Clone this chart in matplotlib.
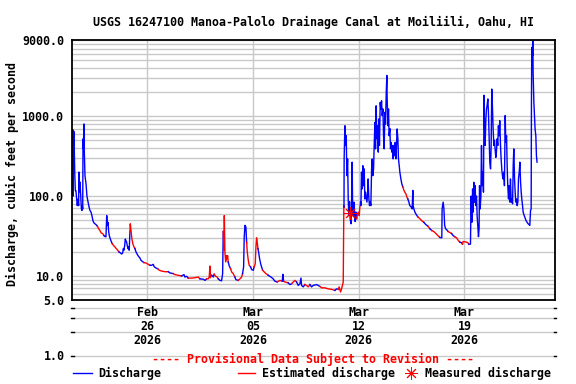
import numpy as np
import pandas as pd
import matplotlib
matplotlib.use("Agg")
from matplotlib import pyplot as plt
import matplotlib.dates as mdates
from matplotlib.lines import Line2D
from matplotlib.ticker import FixedLocator, LogLocator, NullFormatter, FuncFormatter

# discharge readings, days after 2026-02-21 00:00 and cubic feet per second
days = [0.02, 0.05, 0.07, 0.09, 0.11, 0.13, 0.18, 0.22, 0.26, 0.31,
        0.35, 0.40, 0.44, 0.46, 0.51, 0.53, 0.58, 0.62, 0.66, 0.68,
        0.71, 0.73, 0.75, 0.77, 0.79, 0.81, 0.86, 0.93, 0.99, 1.06,
        1.13, 1.19, 1.26, 1.32, 1.39, 1.46, 1.52, 1.59, 1.68, 1.77,
        1.85, 1.94, 2.03, 2.12, 2.20, 2.25, 2.30, 2.34, 2.38, 2.43,
        2.47, 2.54, 2.60, 2.67, 2.76, 2.85, 2.93, 3.03, 3.11, 3.20,
        3.29, 3.36, 3.40, 3.44, 3.49, 3.53, 3.58, 3.62, 3.66, 3.71,
        3.75, 3.79, 3.84, 3.86, 3.91, 3.97, 4.04, 4.11, 4.17, 4.24,
        4.30, 4.37, 4.44, 4.50, 4.57, 4.64, 4.70, 4.77, 4.88, 4.99,
        5.17, 5.28, 5.38, 5.45, 5.56, 5.68, 5.78, 5.94, 6.16, 6.38,
        6.49, 6.71, 6.82, 7.04, 7.26, 7.42, 7.48, 7.60, 7.70, 7.93,
        8.15, 8.36, 8.48, 8.70, 8.81, 8.92, 9.03, 9.09, 9.14, 9.16,
        9.25, 9.36, 9.42, 9.52, 9.62, 9.69, 9.80, 9.91, 9.98, 10.02,
        10.07, 10.09, 10.13, 10.18, 10.22, 10.26, 10.31, 10.35, 10.42, 10.51,
        10.58, 10.68, 10.79, 10.86, 11.01, 11.13, 11.24, 11.30, 11.37, 11.41,
        11.46, 11.52, 11.57, 11.61, 11.68, 11.74, 11.83, 11.90, 12.01, 12.07,
        12.14, 12.19, 12.23, 12.27, 12.32, 12.36, 12.43, 12.50, 12.56, 12.63,
        12.74, 12.85, 13.00, 13.18, 13.33, 13.44, 13.60, 13.77, 13.93, 13.97,
        14.02, 14.11, 14.32, 14.44, 14.55, 14.66, 14.77, 14.88, 14.99, 15.10,
        15.17, 15.21, 15.32, 15.43, 15.54, 15.65, 15.76, 15.87, 15.98, 16.21,
        16.42, 16.54, 16.75, 16.97, 17.20, 17.42, 17.53, 17.64, 17.70, 17.79,
        17.86, 17.97, 18.01, 18.02, 18.03, 18.08, 18.13, 18.17, 18.21, 18.26,
        18.30, 18.34, 18.39, 18.43, 18.48, 18.52, 18.56, 18.59, 18.63, 18.68,
        18.72, 18.76, 18.81, 18.86, 18.90, 18.96, 19.03, 19.07, 19.12, 19.14,
        19.18, 19.23, 19.27, 19.32, 19.36, 19.40, 19.45, 19.54, 19.58, 19.62,
        19.67, 19.71, 19.76, 19.80, 19.85, 19.89, 19.93, 19.98, 20.02, 20.07,
        20.11, 20.15, 20.20, 20.24, 20.29, 20.33, 20.37, 20.42, 20.46, 20.51,
        20.55, 20.60, 20.64, 20.68, 20.73, 20.77, 20.82, 20.86, 20.88, 20.93,
        20.97, 21.01, 21.06, 21.10, 21.15, 21.19, 21.24, 21.28, 21.32, 21.37,
        21.41, 21.46, 21.50, 21.54, 21.59, 21.63, 21.68, 21.72, 21.79, 21.85,
        21.92, 21.99, 22.05, 22.12, 22.19, 22.25, 22.32, 22.38, 22.47, 22.54,
        22.58, 22.60, 22.65, 22.72, 22.78, 22.85, 22.91, 23.05, 23.18, 23.31,
        23.44, 23.58, 23.71, 23.84, 23.97, 24.11, 24.24, 24.37, 24.50, 24.52,
        24.59, 24.64, 24.69, 24.75, 24.82, 24.92, 25.03, 25.15, 25.25, 25.36,
        25.48, 25.58, 25.70, 25.81, 25.87, 25.91, 26.14, 26.23, 26.29, 26.40,
        26.44, 26.49, 26.54, 26.58, 26.62, 26.67, 26.71, 26.75, 26.80, 26.84,
        26.89, 26.93, 26.97, 27.00, 27.04, 27.09, 27.13, 27.17, 27.22, 27.26,
        27.30, 27.33, 27.37, 27.42, 27.46, 27.50, 27.55, 27.59, 27.64, 27.68,
        27.73, 27.77, 27.81, 27.86, 27.90, 27.95, 27.99, 28.03, 28.08, 28.12,
        28.16, 28.21, 28.25, 28.30, 28.34, 28.39, 28.43, 28.48, 28.52, 28.56,
        28.61, 28.65, 28.70, 28.74, 28.79, 28.83, 28.87, 28.92, 28.96, 29.01,
        29.05, 29.10, 29.14, 29.19, 29.23, 29.27, 29.32, 29.36, 29.40, 29.45,
        29.49, 29.54, 29.58, 29.63, 29.67, 29.72, 29.76, 29.80, 29.85, 29.89,
        29.96, 30.02, 30.09, 30.15, 30.22, 30.28, 30.33, 30.38, 30.42, 30.44,
        30.46, 30.48, 30.51, 30.53, 30.55, 30.60, 30.64, 30.68, 30.73, 30.77,
        30.81]

cfs = [100, 680, 100, 660, 200, 640, 200, 117, 117, 92,
       76, 92, 76, 200, 113, 150, 100, 69, 66, 76,
       69, 520, 390, 520, 800, 390, 180, 142, 100, 85,
       73, 66, 63, 57, 49, 46, 45, 44, 42, 39,
       37, 34.5, 34, 32, 31, 31, 57, 43, 47, 36,
       32, 29, 27, 25.3, 24, 23, 22, 21, 20, 19.5,
       18.8, 19.5, 22, 21, 24, 29, 27.5, 26.5, 24, 22,
       23, 21, 36, 45, 37, 29, 25, 23, 22, 20,
       19, 18, 17.3, 16.8, 15.7, 15.3, 15, 14.7, 14.6, 14.2,
       13.6, 13.6, 14, 13, 12.6, 12.3, 11.8, 11.5, 11.3, 11.3,
       10.9, 10.7, 10.4, 10.2, 10.0, 10.4, 9.7, 9.9, 9.4, 9.4,
       9.5, 9.7, 9.2, 9.1, 8.8, 9.2, 9.2, 9.7, 13.3, 9.5,
       10.2, 9.7, 10.5, 9.9, 9.7, 9.2, 8.8, 8.7, 10.7, 36,
       21, 57, 20, 15, 18, 16.4, 18, 15, 13.3, 12.3,
       11.2, 10.7, 9.7, 9.0, 8.8, 9.2, 9.7, 10.7, 13, 30.7,
       43, 41, 26.5, 20, 15.7, 13.6, 13, 12, 11.8, 13,
       14.2, 24, 30, 26.5, 22, 20, 16.4, 14.2, 13, 11.8,
       11.2, 10.7, 10.2, 9.7, 9.2, 8.6, 8.4, 8.8, 8.6, 10.5,
       8.6, 8.4, 8.2, 7.8, 8.0, 8.4, 8.8, 8.4, 7.6, 8.0,
       9.4, 7.6, 7.3, 7.8, 7.6, 7.3, 7.8, 7.3, 7.6, 7.8,
       7.4, 7.1, 7.1, 6.9, 6.8, 6.6, 6.9, 6.8, 7.3, 6.3,
       6.9, 8.4, 76, 73, 292, 760, 430, 570, 180, 292,
       92, 57, 85, 52, 45, 69, 266, 76, 57, 84,
       63, 48, 63, 52, 57, 63, 57, 73, 84, 76,
       200, 123, 240, 135, 219, 92, 112, 84, 102, 164,
       92, 76, 84, 76, 219, 292, 180, 219, 430, 840,
       390, 1350, 520, 760, 355, 925, 430, 1490, 1233, 1560,
       1020, 1233, 570, 390, 1120, 800, 2000, 3240, 1645, 760,
       1233, 570, 700, 390, 470, 355, 430, 292, 430, 320,
       470, 292, 430, 693, 520, 292, 240, 200, 164, 142,
       130, 118, 112, 107, 97, 92, 84, 76, 73, 69,
       118, 76, 69, 63, 60, 57, 55, 52, 49, 47,
       44, 42, 39, 37, 36, 34, 32, 30.4, 30, 69,
       84, 69, 43, 39, 38, 36, 35, 34, 32, 31,
       30, 28, 26.5, 26, 25, 27, 26.5, 26, 25, 25,
       100, 47, 123, 63, 149, 84, 135, 76, 100, 57,
       41, 31, 39, 135, 69, 100, 430, 135, 200, 112,
       1830, 760, 430, 925, 1233, 1350, 1645, 1120, 520, 266,
       219, 430, 2190, 1233, 693, 430, 500, 390, 305, 355,
       520, 430, 760, 570, 880, 430, 292, 210, 180, 164,
       200, 135, 1020, 470, 570, 240, 135, 92, 135, 84,
       164, 84, 92, 80, 240, 390, 164, 112, 84, 92,
       76, 84, 164, 200, 266, 149, 112, 92, 76, 63,
       57, 53, 49, 47, 45, 44, 43, 66, 69, 1490,
       6700, 7300, 5700, 12000, 3500, 1490, 1020, 693, 570, 320,
       266]

# periods where the record is estimated (drawn red)
est_start = [1.68, 2.67, 3.84, 4.77, 5.68, 6.71, 7.70, 8.92, 9.42, 10.02,
             10.51, 11.01, 11.57, 12.07, 12.63, 13.60, 14.02, 14.55, 15.43, 16.42,
             17.64, 18.86, 21.92, 22.91, 23.58, 23.84, 24.92, 25.36, 25.87]
est_end = [2.12, 3.11, 4.17, 5.17, 6.38, 7.26, 8.48, 9.25, 9.69, 10.35,
           10.79, 11.30, 11.83, 12.32, 13.00, 13.93, 14.32, 14.88, 15.76, 17.42,
           18.02, 19.12, 22.25, 23.31, 23.71, 24.37, 25.15, 25.70, 26.29]

# field measurement
meas_day = 18.41
meas_cfs = 61

ytick_vals = [5, 10, 100, 1000, 9000]
xtick_dates = ['2026-02-26', '2026-03-05', '2026-03-12', '2026-03-19']

plt.rcParams['font.family'] = ['DejaVu Sans Mono']
plt.rcParams['font.weight'] = 'bold'
FS = 8.4
GRID = '#c8c8c8'

start = pd.Timestamp('2026-02-21')
t = mdates.date2num(start + pd.to_timedelta(days, unit='D'))
q = np.array(cfs)
d = np.array(days)

fig = plt.figure(figsize=(5.76, 3.84), dpi=100)
ax = fig.add_axes([72 / 576, 84 / 384, 483 / 576, 260 / 384])

# colour of each segment: red if it starts inside an estimated period
red = np.zeros(len(d) - 1, bool)
for a, b in zip(est_start, est_end):
    red |= (d[:-1] >= a - 1e-6) & (d[:-1] < b - 1e-6)

i = 0
while i < len(red):
    j = i
    while j + 1 < len(red) and red[j + 1] == red[i]:
        j += 1
    ax.plot(t[i:j + 2], q[i:j + 2], color='red' if red[i] else 'blue', lw=1.0)
    i = j + 1

ax.plot(mdates.date2num(start + pd.Timedelta(days=meas_day)), meas_cfs,
        marker=(8, 2, 0), color='red', ms=9, mew=0.7, linestyle='none')

ax.set_yscale('log')
ax.set_ylim(5, 9000)
ax.set_xlim(mdates.date2num(start), mdates.date2num(start + pd.Timedelta(days=32)))

ax.yaxis.set_major_locator(FixedLocator(ytick_vals))
ax.yaxis.set_major_formatter(FuncFormatter(lambda v, p: '%.1f' % v))
ax.yaxis.set_minor_locator(LogLocator(base=10, subs=range(2, 10)))
ax.yaxis.set_minor_formatter(NullFormatter())

ax.xaxis.set_major_locator(FixedLocator(mdates.date2num(pd.to_datetime(xtick_dates))))
ax.xaxis.set_major_formatter(mdates.DateFormatter('%b\n%d\n%Y'))

ax.grid(True, which='both', axis='y', color=GRID, lw=1.0)
ax.grid(True, which='major', axis='x', color=GRID, lw=1.0)
ax.set_axisbelow(True)
ax.tick_params(axis='both', which='both', length=0, labelsize=FS)
ax.tick_params(axis='y', pad=5.8)
ax.tick_params(axis='x', pad=4.6)
for lbl in ax.get_xticklabels():
    lbl.set_linespacing(1.1)

for s in ax.spines.values():
    s.set_linewidth(1.3)
    s.set_color('black')

# gray rules under the plot
W, H = 576, 384
for py in [308.3, 318.3, 331.7, 356.3]:
    fig.add_artist(Line2D([72 / W, 555 / W], [1 - py / H] * 2, color=GRID, lw=1.0, zorder=0))
    fig.add_artist(Line2D([71 / W, 73.5 / W], [1 - py / H] * 2, color='black', lw=1.0))
    fig.add_artist(Line2D([553.5 / W, 556 / W], [1 - py / H] * 2, color='black', lw=1.0))

fig.text(65 / W, 1 - 357 / H, '1.0', ha='right', va='center', fontsize=FS)

fig.text(313.5 / W, 1 - 22 / H, 'USGS 16247100 Manoa-Palolo Drainage Canal at Moiliili, Oahu, HI',
         ha='center', va='center', fontsize=FS)
fig.text(12 / W, 1 - 174 / H, 'Discharge, cubic feet per second',
         ha='center', va='center', rotation=90, fontsize=FS)
fig.text(312.5 / W, 1 - 359 / H, '---- Provisional Data Subject to Revision ----',
         ha='center', va='center', fontsize=FS, color='red')

# legend row
ly = 1 - 373 / H
fig.add_artist(Line2D([73 / W, 92 / W], [ly, ly], color='blue', lw=1.0))
fig.text(98 / W, ly, 'Discharge', ha='left', va='center', fontsize=FS)
fig.add_artist(Line2D([238 / W, 255 / W], [ly, ly], color='red', lw=1.0))
fig.text(262 / W, ly, 'Estimated discharge', ha='left', va='center', fontsize=FS)
fig.add_artist(Line2D([411 / W], [ly], marker=(8, 2, 0), color='red', ms=9, mew=0.7, linestyle='none'))
fig.text(425 / W, ly, 'Measured discharge', ha='left', va='center', fontsize=FS)

fig.savefig('out.png', dpi=100)
